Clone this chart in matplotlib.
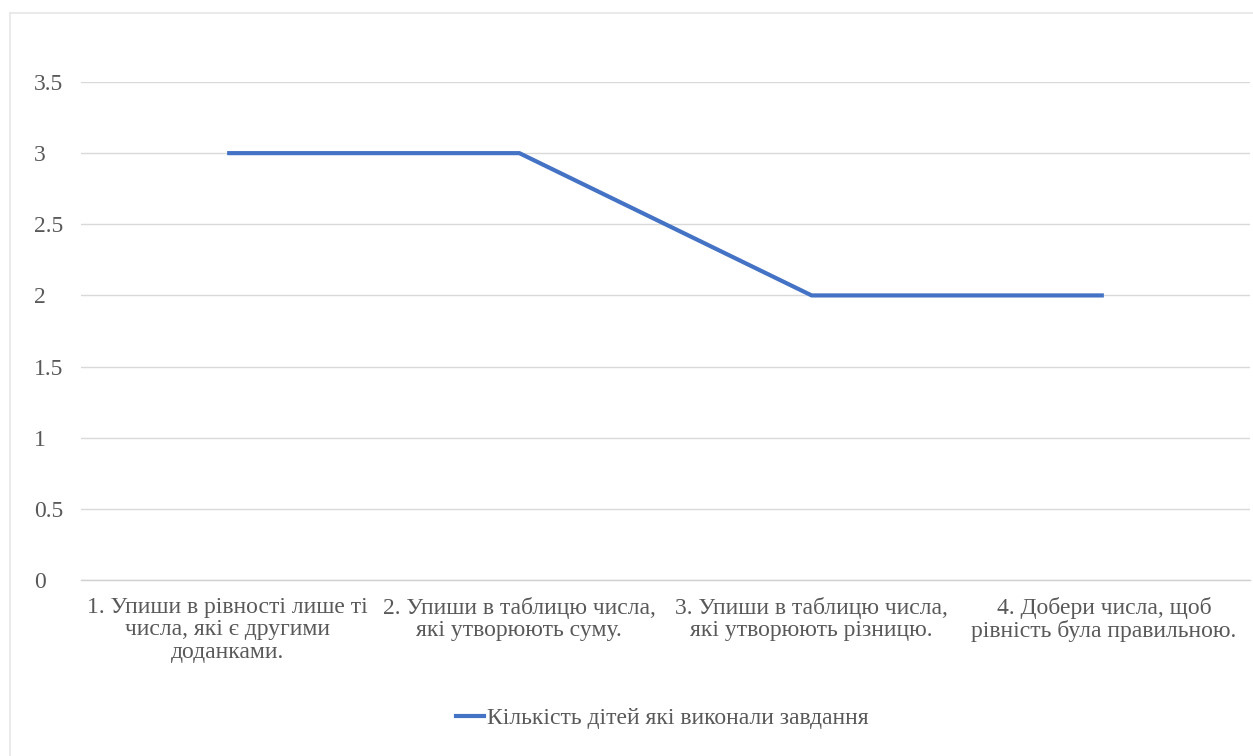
import matplotlib
matplotlib.use("Agg")
import matplotlib.pyplot as plt
from matplotlib.lines import Line2D
import matplotlib.transforms as mtransforms

categories = [
    "1. Упиши в рівності лише ті\nчисла, які є другими\nдоданками.",
    "2. Упиши в таблицю числа,\nякі утворюють суму.",
    "3. Упиши в таблицю числа,\nякі утворюють різницю.",
    "4. Добери числа, щоб\nрівність була правильною.",
]
values = [3, 3, 2, 2]
series_name = "Кількість дітей які виконали завдання"
yticks = [0, 0.5, 1, 1.5, 2, 2.5, 3, 3.5]
ytick_labels = ["0", "0.5", "1", "1.5", "2", "2.5", "3", "3.5"]

plt.rcParams['font.family'] = ['Liberation Serif', 'DejaVu Serif']
W, H = 1253, 756
FS = 17
fig = plt.figure(figsize=(W / 100, H / 100), dpi=100)
fig.patch.set_facecolor('white')

# chart border (left and top visible)
fig.add_artist(Line2D([10 / W, 10 / W], [0, 1 - 13 / H], transform=fig.transFigure,
                      color='#e6e6e6', lw=1.2))
fig.add_artist(Line2D([10 / W, 1], [1 - 13 / H, 1 - 13 / H], transform=fig.transFigure,
                      color='#e6e6e6', lw=1.2))

left, right = 81 / W, 1250 / W
bottom, top = 1 - 580 / H, 1 - 82 / H
ax = fig.add_axes([left, bottom, right - left, top - bottom])

x = list(range(len(categories)))
ax.plot(x, values, color='#4472C4', lw=3.0, solid_capstyle='butt', zorder=3,
        label=series_name)
ax.set_xlim(-0.5, len(categories) - 0.5)
ax.set_ylim(0, 3.5)
ax.set_yticks(yticks)
ax.set_yticklabels(ytick_labels)
ax.set_xticks(x)
ax.set_xticklabels(categories, linespacing=1.1)
ax.yaxis.grid(True, color='#d9d9d9', lw=1.0)
ax.set_axisbelow(True)
for s in ['top', 'right', 'left']:
    ax.spines[s].set_visible(False)
ax.spines['bottom'].set_color('#d0d0d0')
ax.spines['bottom'].set_linewidth(1.0)
ax.tick_params(axis='both', length=0, labelsize=FS, colors='#595959')
ax.tick_params(axis='x', pad=12)
for lab in ax.get_yticklabels():
    lab.set_transform(mtransforms.blended_transform_factory(fig.transFigure, ax.transData))
    lab.set_x(34 / W)
    lab.set_horizontalalignment('left')

fig.legend(handles=[Line2D([], [], color='#4472C4', lw=3.0)], labels=[series_name],
           loc='center', bbox_to_anchor=(662 / W, 1 - 718 / H), frameon=False,
           fontsize=FS, labelcolor='#595959', handlelength=1.2, handletextpad=0.1)

fig.savefig('out.png', dpi=100, facecolor='white')
